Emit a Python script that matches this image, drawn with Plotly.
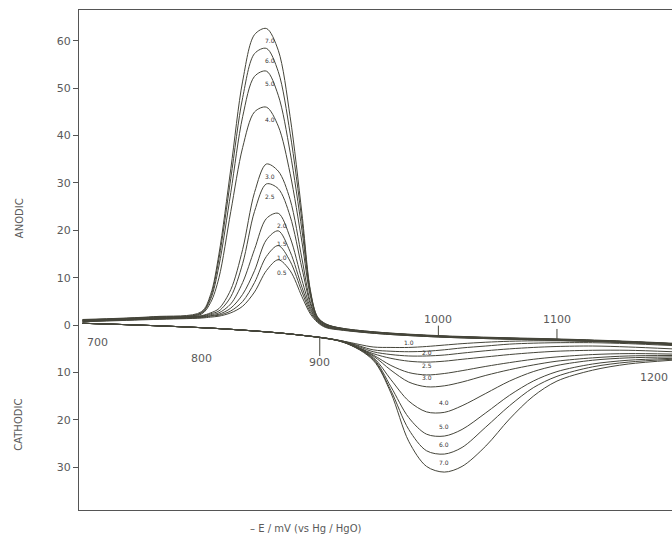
import numpy as np
import plotly.graph_objects as go

# ---------------- data ----------------
labels_anodic = ["7.0", "6.0", "5.0", "4.0", "3.0", "2.5", "2.0", "1.5", "1.0", "0.5"]
E_anodic = [700, 760, 800, 808, 815, 825, 835, 845, 855, 865, 875, 885, 892, 898, 905,
            920, 950, 1000, 1050, 1100, 1150, 1197]
i_70 = [1.2, 1.8, 2.8, 6.5, 15.0, 33.0, 51.5, 61.3, 62.6, 58.0, 44.0, 23.5, 7.5, 1.8, 0.3, -0.8, -1.6, -2.4, -2.8, -3.1, -3.5, -4.0]
i_60 = [1.1, 1.7, 2.6, 6.0, 14.0, 31.0, 48.0, 57.3, 58.4, 53.5, 40.5, 22.0, 7.2, 1.7, 0.2, -0.8, -1.6, -2.3, -2.7, -3.0, -3.4, -3.9]
i_50 = [1.1, 1.7, 2.5, 5.5, 12.5, 28.0, 44.0, 52.5, 53.6, 48.5, 36.5, 20.0, 6.8, 1.6, 0.2, -0.7, -1.5, -2.3, -2.7, -3.0, -3.4, -3.9]
i_40 = [1.0, 1.6, 2.3, 4.8, 10.0, 24.0, 37.5, 45.0, 46.0, 42.0, 32.0, 17.5, 6.2, 1.5, 0.1, -0.7, -1.5, -2.2, -2.6, -2.9, -3.3, -3.8]
i_30 = [1.0, 1.5, 2.0, 2.6, 3.5, 7.5, 16.0, 28.0, 34.0, 32.5, 26.5, 14.0, 5.0, 1.3, 0.0, -0.8, -1.6, -2.3, -2.7, -3.0, -3.4, -3.9]
i_25 = [0.9, 1.4, 1.9, 2.4, 3.0, 6.0, 13.0, 24.0, 29.8, 28.8, 23.0, 12.0, 4.5, 1.2, -0.1, -0.9, -1.6, -2.3, -2.7, -3.0, -3.4, -3.9]
i_20 = [0.9, 1.4, 1.8, 2.2, 2.6, 4.5, 9.0, 16.0, 22.5, 23.6, 18.5, 9.5, 3.8, 1.0, -0.2, -0.9, -1.7, -2.4, -2.8, -3.1, -3.5, -4.0]
i_15 = [0.8, 1.3, 1.7, 2.0, 2.3, 3.6, 6.5, 11.5, 18.0, 19.9, 15.5, 8.0, 3.3, 0.9, -0.3, -1.0, -1.7, -2.4, -2.8, -3.1, -3.5, -4.0]
i_10 = [0.8, 1.3, 1.6, 1.9, 2.1, 3.0, 5.0, 9.0, 14.5, 16.8, 13.5, 7.0, 2.8, 0.8, -0.4, -1.0, -1.8, -2.5, -2.9, -3.2, -3.6, -4.1]
i_05 = [0.7, 1.2, 1.5, 1.7, 1.9, 2.6, 4.0, 7.0, 11.5, 13.8, 11.5, 6.0, 2.4, 0.6, -0.5, -1.1, -1.8, -2.5, -2.9, -3.2, -3.6, -4.1]
anodic_series = [i_70, i_60, i_50, i_40, i_30, i_25, i_20, i_15, i_10, i_05]

labels_cathodic = ["7.0", "6.0", "5.0", "4.0", "3.0", "2.5", "2.0", "", "1.0", ""]
E_cathodic = [700, 760, 820, 880, 920, 945, 960, 975, 990, 1005, 1020, 1040, 1060, 1080,
              1100, 1130, 1160, 1197]
c_70 = [0.4, -0.1, -0.8, -2.0, -3.6, -7.4, -14.3, -24.5, -29.8, -31.0, -29.8, -25.5, -19.8, -15.0, -11.8, -9.5, -8.2, -7.4]
c_60 = [0.4, -0.1, -0.8, -2.0, -3.6, -7.2, -13.8, -22.0, -26.5, -27.2, -25.8, -21.5, -17.0, -13.2, -10.8, -8.8, -7.8, -7.2]
c_50 = [0.4, -0.1, -0.8, -2.0, -3.6, -7.0, -13.0, -19.5, -23.0, -23.4, -22.0, -18.5, -14.8, -11.8, -9.8, -8.2, -7.4, -7.0]
c_40 = [0.4, -0.1, -0.8, -2.0, -3.6, -6.8, -11.5, -16.0, -18.3, -18.4, -17.0, -14.4, -11.8, -9.8, -8.5, -7.4, -6.9, -6.7]
c_30 = [0.4, -0.1, -0.8, -2.0, -3.5, -6.5, -9.5, -12.0, -13.0, -12.8, -12.0, -10.6, -9.4, -8.4, -7.6, -6.9, -6.5, -6.4]
c_25 = [0.4, -0.1, -0.8, -2.0, -3.5, -6.3, -8.5, -10.0, -10.5, -10.2, -9.6, -8.7, -7.9, -7.2, -6.7, -6.2, -6.0, -6.1]
c_20 = [0.4, -0.1, -0.8, -2.0, -3.5, -6.0, -7.0, -7.6, -7.8, -7.6, -7.2, -6.7, -6.2, -5.8, -5.5, -5.3, -5.3, -5.6]
c_15 = [0.4, -0.1, -0.8, -2.0, -3.4, -5.6, -6.2, -6.5, -6.5, -6.3, -5.9, -5.4, -5.0, -4.7, -4.5, -4.4, -4.6, -5.0]
c_10 = [0.4, -0.1, -0.8, -2.0, -3.4, -5.2, -5.5, -5.6, -5.5, -5.2, -4.8, -4.4, -4.0, -3.8, -3.7, -3.7, -3.9, -4.3]
c_05 = [0.4, -0.1, -0.8, -2.0, -3.4, -4.6, -4.7, -4.7, -4.5, -4.2, -3.9, -3.6, -3.4, -3.3, -3.3, -3.4, -3.6, -4.0]
cathodic_series = [c_70, c_60, c_50, c_40, c_30, c_25, c_20, c_15, c_10, c_05]

y_tickvals = [-30, -20, -10, 0, 10, 20, 30, 40, 50, 60]
y_ticktext = ["30", "20", "10", "0", "10", "20", "30", "40", "50", "60"]

x_ticks = [700, 800, 900, 1000, 1100, 1200]
x_ticklabel_y = [-3.6, -7.0, -7.8, 1.2, 1.2, -11.0]

# ---------------- figure ----------------
LINE = "#45453a"
TXT = "#5a5a5a"
FONT = "DejaVu Sans"

fig = go.Figure()
for ys in anodic_series:
    fig.add_trace(go.Scatter(x=E_anodic, y=ys, mode="lines",
                             line=dict(color=LINE, width=1.0, shape="spline", smoothing=0.9),
                             hoverinfo="skip", showlegend=False))
for ys in cathodic_series:
    fig.add_trace(go.Scatter(x=E_cathodic, y=ys, mode="lines",
                             line=dict(color=LINE, width=1.0, shape="spline", smoothing=0.9),
                             hoverinfo="skip", showlegend=False))

annotations = []
# curve labels at anodic maxima and cathodic minima
for lab, ys in zip(labels_anodic, anodic_series):
    k = int(np.argmax(ys))
    annotations.append(dict(x=E_anodic[k] + 3, y=ys[k] - 2.6, text=lab, showarrow=False,
                            font=dict(family=FONT, size=6, color="#333")))
for lab, ys in zip(labels_cathodic, cathodic_series):
    if not lab:
        continue
    k = int(np.argmin(ys))
    annotations.append(dict(x=E_cathodic[k], y=ys[k] + 2.0, text=lab, showarrow=False,
                            font=dict(family=FONT, size=6, color="#333")))

# x tick labels along the baseline
baseline = np.interp(x_ticks, E_anodic, i_70)
lower = np.interp(x_ticks, E_cathodic, c_05)
for t, ly in zip(x_ticks, x_ticklabel_y):
    if t == 1200:
        annotations.append(dict(x=0.997, xref="paper", y=ly, text=str(t), showarrow=False,
                                xanchor="right", yanchor="middle",
                                font=dict(family=FONT, size=11, color=TXT)))
    elif t == 700:
        annotations.append(dict(x=t + 2, y=ly, text=str(t), showarrow=False, xanchor="left",
                                yanchor="middle", font=dict(family=FONT, size=11, color=TXT)))
    else:
        annotations.append(dict(x=t, y=ly, text=str(t), showarrow=False, yanchor="middle",
                                font=dict(family=FONT, size=11, color=TXT)))

shapes = []
for t, b, lo in zip(x_ticks, baseline, lower):
    if t in (1000, 1100):
        shapes.append(dict(type="line", x0=t, x1=t, y0=b, y1=b + 2.3,
                           line=dict(color=LINE, width=1)))
    elif t == 900:
        shapes.append(dict(type="line", x0=t, x1=t, y0=lo, y1=lo - 3.8,
                           line=dict(color=LINE, width=1)))

# axis titles
annotations.append(dict(x=-0.101, xref="paper", y=22.6, text="ANODIC", textangle=-90,
                        xanchor="center", yanchor="middle",
                        showarrow=False, font=dict(family=FONT, size=10, color=TXT)))
annotations.append(dict(x=-0.101, xref="paper", y=-21, text="CATHODIC", textangle=-90,
                        xanchor="center", yanchor="middle",
                        showarrow=False, font=dict(family=FONT, size=10, color=TXT)))
annotations.append(dict(x=0.383, xref="paper", y=-0.037, yref="paper",
                        xanchor="center", yanchor="middle",
                        text="– E / mV (vs Hg / HgO)", showarrow=False,
                        font=dict(family=FONT, size=10, color=TXT)))

fig.update_layout(
    width=672, height=538,
    margin=dict(l=79, r=0, t=10, b=28),
    paper_bgcolor="white", plot_bgcolor="white",
    xaxis=dict(range=[697, 1197], showgrid=False, zeroline=False, showticklabels=False,
               ticks="", showline=True, mirror=True, linecolor="#555", linewidth=1),
    yaxis=dict(range=[-39.0, 66.5], showgrid=False, zeroline=False,
               tickvals=y_tickvals, ticktext=y_ticktext, ticks="outside", ticklen=5,
               tickcolor="#555", showline=True, linecolor="#555", linewidth=1,
               tickfont=dict(family=FONT, size=11, color=TXT)),
    annotations=annotations,
    shapes=shapes,
)

# remove the default page margin so the 672x538 figure fills the window exactly
fig.write_html("out.html", config={"displayModeBar": False},
               post_script="document.body.style.margin='0';document.body.style.overflow='hidden';")
